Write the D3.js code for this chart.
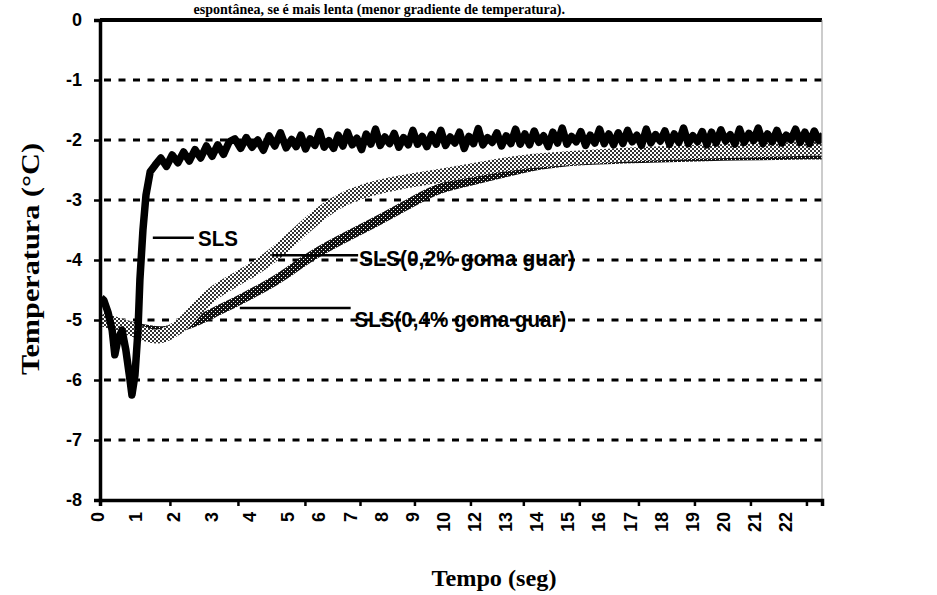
<!DOCTYPE html>
<html>
<head>
<meta charset="utf-8">
<title>Temperatura x Tempo</title>
<script src="https://d3js.org/d3.v7.min.js"></script>
<style>
  body { margin: 0; background: #fff; }
  svg { display: block; }
</style>
</head>
<body>
<svg width="937" height="595"></svg>
<script>
    // tick labels of the category axis (11 is missing in the original)
    const xTickLabels = ["0","1","2","3","4","5","6","7","8","9","10","12","13","14","15","16","17","18","19","20","21","22"];
    const xTickMarks = [0, 1.84, 3.63, 5.48, 7.25, 9, 10.8, 12.5, 14.3, 16.2, 18, 19.8, 21.6];
    const yTicks = [0, -1, -2, -3, -4, -5, -6, -7, -8];

    // SLS, start of run [category position, temperature]
    const slsStart = [[0.03,-4.63],[0.1,-4.67],[0.21,-4.87],[0.32,-5.17],[0.39,-5.58],[0.47,-5.33],
        [0.58,-5.17],[0.68,-5.5],[0.79,-6.0],[0.84,-6.25],[0.92,-5.92],[1.0,-5.17],[1.05,-4.33],
        [1.13,-3.5],[1.21,-2.92],[1.32,-2.53],[1.45,-2.42]];
    // SLS, logger readings after that, one every 0.15
    const slsLogStart = 1.6, slsLogStep = 0.15;
    const slsLog = [
        -2.30,-2.44,-2.25,-2.38,-2.20,-2.35,-2.16,-2.30,-2.10,-2.27,-2.08,-2.24,-2.03,
        -1.98,-2.14,-1.96,-2.12,-2.00,-2.17,-1.93,-2.10,-1.88,-2.13,-1.99,-2.11,-1.92,-2.15,-1.98,-2.09,-1.86,-2.12,-2.01,-2.14,
        -1.92,-2.10,-1.87,-2.08,-1.97,-2.16,-1.90,-2.07,-1.82,-2.09,-1.95,-2.06,-1.89,-2.12,-1.96,-2.08,-1.84,-2.07,-1.94,-2.11,
        -1.91,-2.07,-1.84,-2.09,-1.95,-2.05,-1.87,-2.14,-1.94,-2.06,-1.81,-2.08,-1.96,-2.04,-1.88,-2.10,-1.93,-2.06,-1.82,-2.07,
        -1.90,-2.08,-1.85,-2.04,-1.93,-2.11,-1.87,-2.05,-1.80,-2.07,-1.94,-2.03,-1.86,-2.09,-1.92,-2.05,-1.82,-2.06,-1.90,-2.08,
        -1.88,-2.06,-1.84,-2.03,-1.92,-2.09,-1.82,-2.05,-1.91,-2.02,-1.85,-2.07,-1.90,-2.04,-1.80,-2.06,-1.93,-2.03,-1.86,-2.08,
        -1.87,-2.05,-1.83,-2.02,-1.91,-2.07,-1.82,-2.04,-1.89,-2.01,-1.80,-2.06,-1.90,-2.03,-1.84,-2.05,-1.92,-2.00,-1.82,-2.04,
        -1.87,-2.06,-1.85,-2.01,-1.91];

    // SLS (0,2% goma guar)
    const guar02 = [[0.03,-4.98],[0.39,-5.06],[0.79,-5.14],[1.18,-5.24],[1.5,-5.3],[1.84,-5.22],[2.24,-5.05],
        [2.63,-4.75],[2.97,-4.55],[3.42,-4.38],[3.87,-4.22],[4.29,-4.05],[4.74,-3.83],[5.32,-3.52],
        [6.29,-3.08],[7.25,-2.85],[8.54,-2.7],[9.82,-2.6],[11.1,-2.48],[12.4,-2.36],[14.0,-2.3],
        [16.6,-2.22],[19.8,-2.17],[22.1,-2.14]];
    // SLS (0,4% goma guar)
    const guar04 = [[0.03,-5.0],[0.39,-5.04],[0.79,-5.1],[1.32,-5.18],[1.71,-5.2],[2.1,-5.12],[2.63,-5.0],
        [2.97,-4.88],[3.42,-4.75],[3.87,-4.6],[4.29,-4.46],[4.74,-4.3],[5.74,-3.9],[6.93,-3.58],
        [7.89,-3.33],[8.86,-3.05],[9.74,-2.8],[10.8,-2.68],[11.75,-2.56],[13.0,-2.4],[14.3,-2.33],
        [16.2,-2.3],[18.8,-2.26],[22.1,-2.24]];

    const svg = d3.select("svg");

    // scanned axis is a bit wider in the first seconds
    const x = d3.scaleLinear().domain([0, 5, 22.1]).range([100, 290, 822]);
    const y = d3.scaleLinear().domain([0, -8]).range([20, 500]);

    const defs = svg.append("defs");
    const light = defs.append("pattern").attr("id","lightDots")
        .attr("width",4).attr("height",4).attr("patternUnits","userSpaceOnUse");
    light.append("rect").attr("width",4).attr("height",4).attr("fill","#fff");
    light.append("rect").attr("width",2).attr("height",2).attr("fill","#333");
    light.append("rect").attr("x",2).attr("y",2).attr("width",2).attr("height",2).attr("fill","#333");
    const dark = defs.append("pattern").attr("id","darkDots")
        .attr("width",4).attr("height",4).attr("patternUnits","userSpaceOnUse");
    dark.append("rect").attr("width",4).attr("height",4).attr("fill","#111");
    dark.append("rect").attr("x",1).attr("y",1).attr("width",1).attr("height",1).attr("fill","#fff");
    dark.append("rect").attr("x",3).attr("y",3).attr("width",1).attr("height",1).attr("fill","#fff");
    defs.append("clipPath").attr("id","plot").append("rect")
        .attr("x",x(0)).attr("y",y(0)).attr("width",x(22.1)-x(0)).attr("height",y(-8)-y(0));

    // header line of the scanned page
    svg.append("text")
        .attr("x",565).attr("y",14)
        .attr("text-anchor","end")
        .attr("font-family","Liberation Serif").attr("font-weight","bold").attr("font-size",14)
        .text("espontânea, se é mais lenta (menor gradiente de temperatura).");

    // dashed gridlines
    svg.append("g").selectAll("line").data(yTicks.filter(d => d < 0 && d > -8)).enter().append("line")
        .attr("x1",x(0)+4).attr("x2",x(22.1))
        .attr("y1",d => y(d)).attr("y2",d => y(d))
        .attr("stroke","#000").attr("stroke-width",2.8)
        .attr("stroke-dasharray","7,7.5");

    const line = d3.line().x(d => x(d[0])).y(d => y(d[1]));
    const smooth = d3.line().x(d => x(d[0])).y(d => y(d[1])).curve(d3.curveBasis);

    const plot = svg.append("g").attr("clip-path","url(#plot)");
    plot.append("path").datum(guar04)
        .attr("d",smooth).attr("fill","none")
        .attr("stroke","url(#darkDots)").attr("stroke-width",10);
    plot.append("path").datum(guar02)
        .attr("d",smooth).attr("fill","none")
        .attr("stroke","url(#lightDots)").attr("stroke-width",14);

    const slsData = slsStart.concat(slsLog.map((v,i) => [slsLogStart + i*slsLogStep, v]));
    plot.append("path").datum(slsData)
        .attr("d",line).attr("fill","none")
        .attr("stroke","#000").attr("stroke-width",7.5).attr("stroke-linejoin","round");

    // axes frame
    svg.append("line").attr("x1",x(0)).attr("x2",x(22.1)).attr("y1",y(0)).attr("y2",y(0))
        .attr("stroke","#000").attr("stroke-width",4);
    svg.append("line").attr("x1",x(22.1)).attr("x2",x(22.1)).attr("y1",y(0)).attr("y2",y(-8))
        .attr("stroke","#999").attr("stroke-width",1);

    const yAxis = svg.append("g")
        .attr("transform","translate(" + x(0) + ",0)")
        .call(d3.axisLeft(y).tickValues(yTicks).tickSize(6).tickPadding(12).tickFormat(d => String(d)));
    yAxis.select(".domain").attr("stroke-width",3.5);
    yAxis.selectAll(".tick line").attr("stroke-width",2.5);
    yAxis.selectAll("text")
        .attr("font-family","Liberation Sans").attr("font-weight","bold").attr("font-size",18)
        .attr("fill","#000");

    const xAxis = svg.append("g")
        .attr("transform","translate(0," + y(-8) + ")")
        .call(d3.axisBottom(x).tickValues(xTickMarks).tickSize(6).tickFormat(""));
    xAxis.select(".domain").attr("stroke-width",3.5);
    xAxis.selectAll(".tick line").attr("stroke-width",2.5);

    svg.append("g").selectAll("text").data(xTickLabels).enter().append("text")
        .attr("transform",(d,i) => "translate(" + (x(i)-2) + ",512) rotate(-90)")
        .attr("dy","0.35em")
        .attr("text-anchor","end")
        .attr("font-family","Liberation Sans").attr("font-weight","bold").attr("font-size",18)
        .text(d => d);

    // series labels with leader lines
    const seriesLabels = [
        {text:"SLS", t0:1.39, t1:2.47, v:-3.63, tx:2.58, tv:-3.63, len:40},
        {text:"SLS(0,2% goma guar)", t0:4.53, t1:7.19, v:-3.92, tx:7.22, tv:-3.97, len:216},
        {text:"SLS(0,4% goma guar)", t0:3.68, t1:6.95, v:-4.8, tx:7.07, tv:-4.98, len:212}
    ];
    svg.append("g").selectAll("line").data(seriesLabels).enter().append("line")
        .attr("x1",d => x(d.t0)).attr("x2",d => x(d.t1))
        .attr("y1",d => y(d.v)).attr("y2",d => y(d.v))
        .attr("stroke","#000").attr("stroke-width",2.5);
    svg.append("g").selectAll("text").data(seriesLabels).enter().append("text")
        .attr("x",d => x(d.tx)).attr("y",d => y(d.tv))
        .attr("dy","0.36em")
        .attr("textLength",d => d.len).attr("lengthAdjust","spacingAndGlyphs")
        .attr("font-family","Liberation Sans").attr("font-weight","bold").attr("font-size",22)
        .text(d => d.text);

    // axis titles
    svg.append("text")
        .attr("transform","translate(30,259) rotate(-90)")
        .attr("dy","0.35em")
        .attr("text-anchor","middle")
        .attr("textLength",232).attr("lengthAdjust","spacingAndGlyphs")
        .attr("font-family","Liberation Serif").attr("font-weight","bold").attr("font-size",25)
        .text("Temperatura (°C)");
    svg.append("text")
        .attr("x",494).attr("y",586)
        .attr("text-anchor","middle")
        .attr("textLength",125).attr("lengthAdjust","spacingAndGlyphs")
        .attr("font-family","Liberation Serif").attr("font-weight","bold").attr("font-size",24)
        .text("Tempo (seg)");
</script>
</body>
</html>
